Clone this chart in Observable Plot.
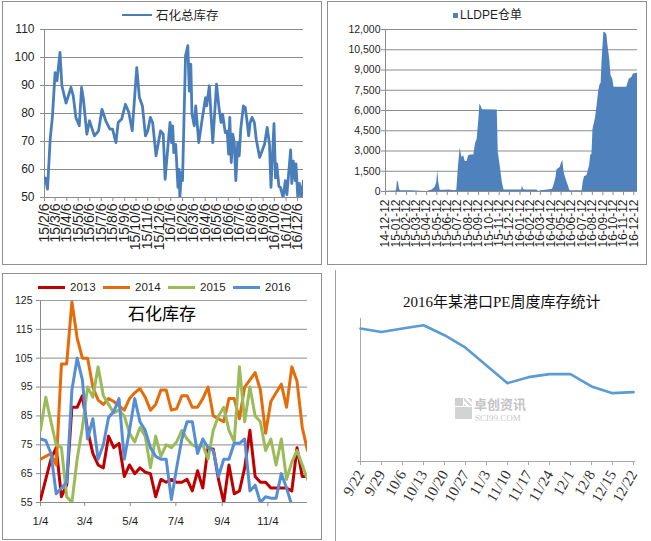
<!DOCTYPE html>
<html><head><meta charset="utf-8">
<script src="https://cdn.jsdelivr.net/npm/d3@7"></script>
<script src="https://cdn.jsdelivr.net/npm/@observablehq/plot@0.6"></script>
<style>
body{margin:0;background:#fff;}
#wrap{position:relative;width:651px;height:541px;overflow:hidden;background:#fff;font-family:"Liberation Sans","Noto Sans CJK SC",sans-serif;color:#222;}
.a{position:absolute;white-space:nowrap;}
</style></head><body><div id="wrap"></div>
<script>
// ---------- Panel 1: 石化总库存 ----------
const p1Dates = ["2015-02-08","2015-02-14","2015-02-21","2015-02-27","2015-03-06","2015-03-11","2015-03-19","2015-03-24","2015-04-04","2015-04-17","2015-04-23","2015-04-30","2015-05-09","2015-05-15","2015-05-20","2015-05-29","2015-06-05","2015-06-18","2015-06-29","2015-07-08","2015-07-18","2015-07-29","2015-08-05","2015-08-14","2015-08-20","2015-08-29","2015-09-08","2015-09-17","2015-09-26","2015-10-08","2015-10-15","2015-10-23","2015-10-31","2015-11-06","2015-11-13","2015-11-19","2015-11-28","2015-12-10","2015-12-17","2015-12-22","2015-12-28","2016-01-04","2016-01-08","2016-01-11","2016-01-14","2016-01-19","2016-01-25","2016-01-28","2016-01-30","2016-02-03","2016-02-06","2016-02-14","2016-02-20","2016-02-24","2016-02-28","2016-03-02","2016-03-08","2016-03-12","2016-03-20","2016-03-29","2016-04-07","2016-04-10","2016-04-17","2016-04-21","2016-04-26","2016-05-06","2016-05-13","2016-05-18","2016-05-22","2016-05-29","2016-06-03","2016-06-07","2016-06-10","2016-06-14","2016-06-18","2016-06-22","2016-06-26","2016-07-01","2016-07-05","2016-07-09","2016-07-16","2016-07-21","2016-07-26","2016-07-30","2016-08-03","2016-08-08","2016-08-14","2016-08-19","2016-08-28","2016-09-10","2016-09-17","2016-09-23","2016-09-27","2016-10-05","2016-10-09","2016-10-12","2016-10-18","2016-10-22","2016-10-29","2016-11-04","2016-11-08","2016-11-13","2016-11-18","2016-11-21","2016-11-25","2016-11-30","2016-12-02","2016-12-07","2016-12-11","2016-12-16","2016-12-22"];
const p1Values = [57,53,70.8,79,94.6,91.7,101.8,89.9,83.7,89.3,86.3,78.6,75.6,89.3,85,72.6,77.4,72,73.8,81.5,77.4,74.4,74.4,69.6,76.8,78,83.3,80.4,73.8,96.4,85.7,82.7,72,73.8,78.6,76.8,64.9,73.8,72.6,56.5,66,76.8,69.6,75.6,66,69,53.6,60,50,58.9,56,100.6,104.2,88,97.6,79.8,75.6,82.7,69.6,78,85.7,82.7,89.9,80.4,69.6,90.5,81.5,76.8,79.8,73.2,73.8,65.5,78.6,62.5,72.6,69.6,56,69.6,64.9,74.4,82.7,82.1,76.8,72,76.8,78.6,76.8,70.8,64.3,69,75,69,53.6,76.4,57,62,54,53.6,50,56,51,59,67,55,63,56,62,50,55,50,56];
const p1TickLabels = ["15/2/6","15/3/6","15/4/6","15/5/6","15/6/6","15/7/6","15/8/6","15/9/6","15/10/6","15/11/6","15/12/6","16/1/6","16/2/6","16/3/6","16/4/6","16/5/6","16/6/6","16/7/6","16/8/6","16/9/6","16/10/6","16/11/6","16/12/6"];
const p1YTicks = [50,60,70,80,90,100,110];
const p1Legend = "石化总库存";

// ---------- Panel 2: LLDPE仓单 ----------
const p2Dates = ["2014-12-12","2015-01-12","2015-01-14","2015-01-16","2015-01-19","2015-01-23","2015-01-26","2015-02-27","2015-03-27","2015-04-13","2015-04-28","2015-05-07","2015-05-12","2015-05-15","2015-05-18","2015-05-22","2015-06-06","2015-06-16","2015-07-05","2015-07-10","2015-07-15","2015-07-20","2015-07-25","2015-07-30","2015-08-04","2015-08-09","2015-08-14","2015-08-19","2015-08-29","2015-09-03","2015-09-08","2015-09-13","2015-09-16","2015-09-21","2015-09-23","2015-11-06","2015-11-09","2015-11-16","2015-11-21","2015-11-26","2015-12-18","2016-01-17","2016-01-19","2016-01-22","2016-01-27","2016-03-02","2016-03-07","2016-03-14","2016-04-03","2016-04-17","2016-04-22","2016-04-27","2016-04-30","2016-05-05","2016-05-09","2016-05-14","2016-05-17","2016-05-21","2016-05-25","2016-05-30","2016-06-04","2016-06-07","2016-07-13","2016-07-16","2016-07-20","2016-07-27","2016-08-04","2016-08-07","2016-08-11","2016-08-14","2016-08-21","2016-08-26","2016-08-31","2016-09-03","2016-09-07","2016-09-10","2016-09-15","2016-09-20","2016-09-24","2016-09-27","2016-10-02","2016-10-06","2016-10-11","2016-10-15","2016-11-21","2016-11-26","2016-11-29","2016-12-06","2016-12-11","2016-12-23"];
const p2Values = [20,30,170,790,670,120,50,50,20,0,120,300,670,1530,670,100,100,120,50,100,1900,3200,2520,2650,2230,2230,2650,2700,2700,3510,3890,5370,6480,6240,6060,6040,2900,1660,670,120,120,120,420,170,120,120,0,50,120,170,540,1040,1610,1710,1780,2150,2280,1410,1040,670,300,50,50,670,1110,1160,1900,2650,2770,4630,5370,6360,7470,7850,8040,9830,11800,11760,11560,10820,9830,8590,8340,7720,7720,8090,8340,8420,8710,8760];
const p2TickLabels = ["14-12-12","15-01-12","15-02-12","15-03-12","15-04-12","15-05-12","15-06-12","15-07-12","15-08-12","15-09-12","15-10-12","15-11-12","15-12-12","16-01-12","16-02-12","16-03-12","16-04-12","16-05-12","16-06-12","16-07-12","16-08-12","16-09-12","16-10-12","16-11-12","16-12-12"];
const p2YTicks = [0,1500,3000,4500,6000,7500,9000,10500,12000];
const p2Legend = "LLDPE仓单";

// ---------- Panel 3: 石化库存 (by year) ----------
const p3Years = ["2013","2014","2015","2016"];
const s2013 = [56,63,70,74,57,61,88,88,92,80,72,68,67,78,74,75.5,64,68,65,67,65.5,65,57,63,62,63,62,62,63,59,66,60,74,73.5,63,55,68,58,59,67,80,64,62,62,60,60,60,60,59,74,64,64];
const s2014 = [70,71,72,68,103,103,124.5,112,105,105,95,90.5,89,91,90,88.5,87,91,93,94.5,91.5,87,89,94,94,87,87.5,92,92,88,88,91,95,85,84,83,91,91,84,95,97.5,100,94,79,90,93,96,88,102,97,81,73];
const s2015 = [80,91.5,83,75,74,57,55,70,81,95,91.5,102,92,89,86,87,85,79,76,81,78,67,78,71,75,74,76,80,77,75,74,75,70,80,85,88,80,76,102,83,95,85,83,73,77,68,77,63,69,73,68,63];
const s2016 = [77,76.5,72,58,60,62,94,105,97.5,77,84,70,75,84.5,86.5,91,70,80,91,83,80,74,71,70,70,56,67,77,83,83,72,77,74,73,64,70,70,75.5,75.5,77,59,61,55,57,56.5,56.5,65,60,54];
const p3Colors = ["#C00000","#E46C0A","#9BBB59","#558ED5"];
const p3TickLabels = ["1/4","3/4","5/4","7/4","9/4","11/4"];
const p3YTicks = [55,65,75,85,95,105,115,125];
const p3Title = "石化库存";

// ---------- Panel 4: 2016年某港口PE周度库存统计 ----------
const p4Categories = ["9/22","9/29","10/6","10/13","10/20","10/27","11/3","11/10","11/17","11/24","12/1","12/8","12/15","12/22"];
const p4Values = [9.30,9.06,9.30,9.53,8.83,7.96,6.72,5.48,5.90,6.11,6.11,5.25,4.78,4.85];
const p4Title = "2016年某港口PE周度库存统计";
const p4Watermark = ["卓创资讯", "SCI99.COM"];

// ---------- helpers ----------
const wrap = document.getElementById("wrap");
function add(html, css){ const d=document.createElement("div"); d.className="a"; d.style.cssText=css; d.innerHTML=html; wrap.appendChild(d); return d; }
function place(svg, left, top){ const d=document.createElement("div"); d.className="a"; d.style.left=left+"px"; d.style.top=top+"px"; d.appendChild(svg); wrap.appendChild(d); }
const ymd = (s, sep) => { const [y,m,d] = s.split(sep).map(Number); return new Date(Date.UTC(2000+y, m-1, d)); };
const baseStyle = {background:"transparent", overflow:"visible", fontFamily:"Liberation Sans, Noto Sans CJK SC, sans-serif", color:"#1f1f1f"};

// borders
add("", "left:2px;top:1px;width:320px;height:264px;border:1px solid #909090;box-sizing:border-box;");
add("", "left:327px;top:1px;width:320px;height:264px;border:1px solid #909090;box-sizing:border-box;");
add("", "left:2px;top:273px;width:320px;height:267px;border:1px solid #909090;box-sizing:border-box;");
add("", "left:335px;top:270px;width:1px;height:271px;background:#a0a0a0;");

// ---------- Panel 1 ----------
{
  const ticks = p1TickLabels.map(s => ymd(s, "/"));
  const fmt = new Map(ticks.map((d,i)=>[+d, p1TickLabels[i]]));
  const data = p1Dates.map((d,i)=>({date:new Date(d), value:p1Values[i]}));
  const x0 = new Date("2015-02-06"), x1 = new Date("2016-12-22");
  const svg = Plot.plot({
    width:325, height:268, marginLeft:44, marginRight:22, marginTop:29, marginBottom:71,
    style:{...baseStyle, fontSize:"12px"},
    x:{type:"utc", domain:[x0, x1]},
    y:{domain:[50,110]},
    marks:[
      Plot.ruleY(p1YTicks.slice(1), {stroke:"#8c8c8c", strokeWidth:1}),
      Plot.ruleY([50], {stroke:"#8c8c8c"}),
      Plot.ruleX([x0], {stroke:"#8c8c8c"}),
      Plot.line(data, {x:"date", y:"value", stroke:"#4A7EBB", strokeWidth:2.8, clip:true}),
      Plot.axisY(p1YTicks, {tickSize:4, tickPadding:6, label:null, stroke:"#8c8c8c", fontSize:12}),
      Plot.axisX(ticks, {tickRotate:-90, tickSize:4, tickPadding:2, label:null, stroke:"#8c8c8c", fontSize:14, tickFormat:d=>fmt.get(+d)})
    ]
  });
  place(svg, 0, 0);
  add("", "left:122px;top:14px;width:30px;height:2px;background:#4A7EBB;");
  add(p1Legend, "left:156px;top:7px;font:12.5px/16px 'Noto Sans CJK SC',sans-serif;color:#1f1f1f;");
}

// ---------- Panel 2 ----------
{
  const ticks = p2TickLabels.map(s => ymd(s, "-"));
  const fmt = new Map(ticks.map((d,i)=>[+d, p2TickLabels[i]]));
  const data = p2Dates.map((d,i)=>({date:new Date(d), value:p2Values[i]}));
  const x0 = new Date("2014-12-12"), x1 = new Date("2016-12-23");
  const svg = Plot.plot({
    width:326, height:268, marginLeft:60, marginRight:14, marginTop:29, marginBottom:77,
    style:{...baseStyle, fontSize:"11px"},
    x:{type:"utc", domain:[x0, x1]},
    y:{domain:[0,12000]},
    marks:[
      Plot.ruleY(p2YTicks.slice(1), {stroke:"#8c8c8c", strokeWidth:1}),
      Plot.areaY(data, {x:"date", y:"value", fill:"#4F81BD"}),
      Plot.ruleY([0], {stroke:"#8c8c8c"}),
      Plot.ruleX([x0], {stroke:"#8c8c8c"}),
      Plot.axisY(p2YTicks, {tickSize:4, tickPadding:1, label:null, stroke:"#8c8c8c", fontSize:10.5, tickFormat:d3.format(",")}),
      Plot.axisX(ticks, {tickRotate:-90, tickSize:4, tickPadding:4, label:null, stroke:"#8c8c8c", fontSize:12, tickFormat:d=>fmt.get(+d)})
    ]
  });
  place(svg, 325, 0);
  add("", "left:453px;top:12.5px;width:5px;height:5px;background:#4F81BD;");
  add(p2Legend, "left:460px;top:7px;font:12px/16px 'Liberation Sans','Noto Sans CJK SC',sans-serif;color:#1f1f1f;");
}

// ---------- Panel 3 ----------
{
  const start = new Date(Date.UTC(2015,0,4));
  const ticks = p3TickLabels.map(s => { const [m,d]=s.split("/").map(Number); return new Date(Date.UTC(2015,m-1,d)); });
  const fmt = new Map(ticks.map((d,i)=>[+d, p3TickLabels[i]]));
  const series = [s2013, s2014, s2015, s2016];
  const rows = [];
  series.forEach((arr, k) => arr.forEach((v, i) => rows.push({year:p3Years[k], date:d3.utcDay.offset(start, 7*i), value:v})));
  const x1 = d3.utcDay.offset(start, 7*51);
  const svg = Plot.plot({
    width:325, height:270, marginLeft:40, marginRight:18, marginTop:30, marginBottom:38,
    style:{...baseStyle, fontSize:"11px"},
    x:{type:"utc", domain:[start, x1]},
    y:{domain:[55,125]},
    color:{domain:p3Years, range:p3Colors},
    marks:[
      Plot.ruleY(p3YTicks.slice(1), {stroke:"#a0a0a0", strokeWidth:1.2}),
      Plot.ruleY([55], {stroke:"#8c8c8c"}),
      Plot.ruleX([start], {stroke:"#8c8c8c"}),
      Plot.line(rows, {x:"date", y:"value", z:"year", stroke:"year", strokeWidth:3, clip:true}),
      Plot.axisY(p3YTicks, {tickSize:4, tickPadding:4, label:null, stroke:"#8c8c8c", fontSize:10.5}),
      Plot.axisX(ticks, {tickSize:4, tickPadding:10, label:null, stroke:"#8c8c8c", fontSize:11.5, tickFormat:d=>fmt.get(+d)})
    ]
  });
  place(svg, 0, 270);
  const lx = [38,103,168,233];
  p3Years.forEach((y,k)=>{
    add("", `left:${lx[k]}px;top:285.5px;width:27px;height:3px;background:${p3Colors[k]};`);
    add(y, `left:${lx[k]+32}px;top:279px;font:11.5px/16px 'Liberation Sans',sans-serif;color:#1f1f1f;`);
  });
  add(p3Title, "left:128px;top:302px;font:17px/22px 'Noto Sans CJK SC',sans-serif;color:#000;");
}

// ---------- Panel 4 ----------
{
  const data = p4Categories.map((c,i)=>({cat:c, value:p4Values[i]}));
  const svg = Plot.plot({
    width:326, height:271, marginLeft:32, marginRight:16, marginTop:48, marginBottom:80,
    style:{...baseStyle, fontFamily:"Liberation Serif, serif", fontSize:"15px", color:"#333"},
    x:{type:"point", domain:p4Categories, padding:0},
    y:{domain:[0,10]},
    marks:[
      Plot.ruleY([0], {stroke:"#a8a8a8"}),
      Plot.ruleX([p4Categories[0]], {stroke:"#a8a8a8"}),
      Plot.line(data, {x:"cat", y:"value", stroke:"#5B9BD5", strokeWidth:2.6}),
      Plot.axisX({tickRotate:-60, tickSize:4, tickPadding:6, label:null, stroke:"#a8a8a8", fontSize:15}),
      Plot.axisY({ticks:[], label:null})
    ]
  });
  place(svg, 325, 270);
  add(p4Title, "left:403px;top:292px;font:15px/20px 'Liberation Serif','Noto Sans CJK SC',serif;color:#111;");
  // watermark
  add("", "left:455px;top:398px;width:8px;height:8px;background:#cfcfcf;");
  add("", "left:464px;top:398px;width:8px;height:8px;background:repeating-linear-gradient(45deg,#d8d8d8 0 2px,#fff 2px 4px);");
  add("", "left:455px;top:407px;width:17px;height:12px;background:#d3d3d3;");
  add(p4Watermark[0], "left:474px;top:397px;font:bold 13px/13px 'Noto Sans CJK SC',sans-serif;color:#c4c4c4;");
  add(p4Watermark[1], "left:475px;top:414px;font:9px/9px 'Liberation Serif',serif;color:#c8c8c8;");
}
</script></body></html>
